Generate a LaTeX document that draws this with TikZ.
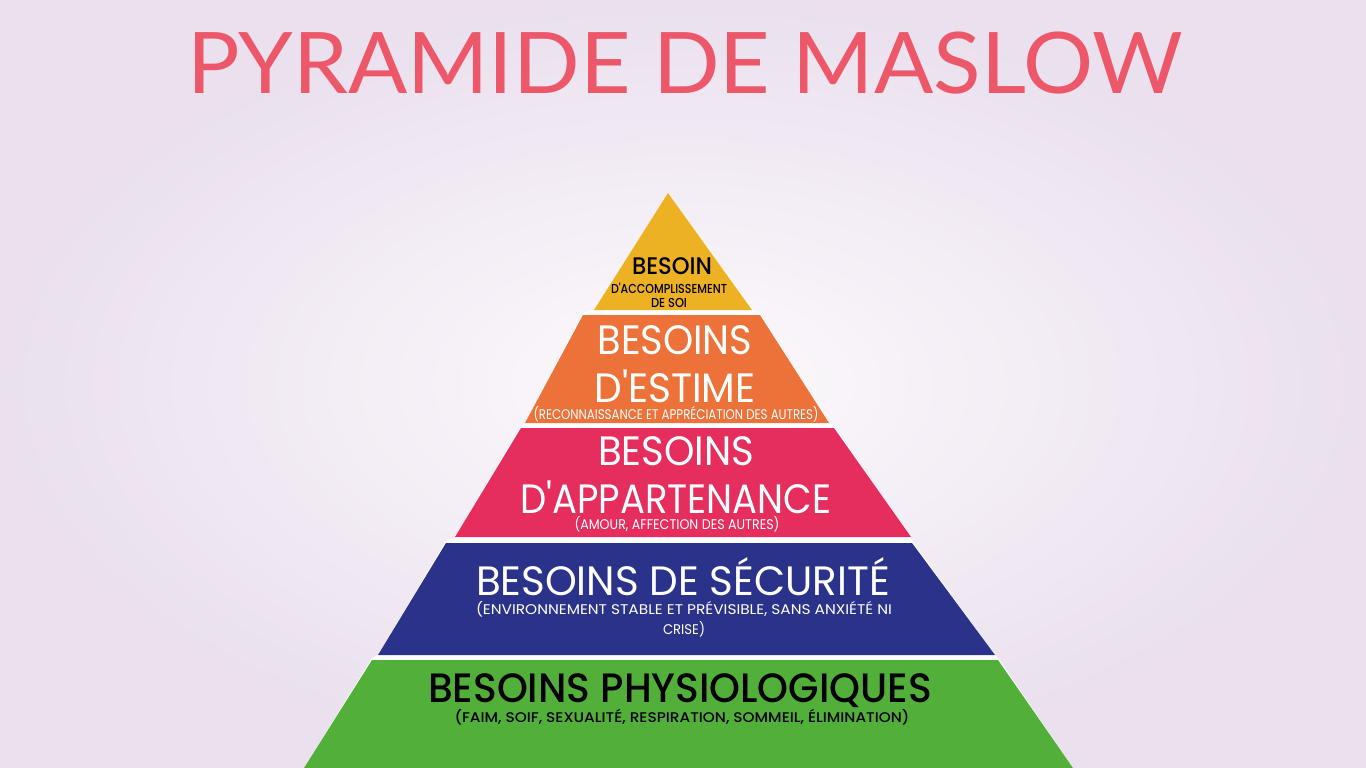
\documentclass[tikz,border=0pt]{standalone}
\usepackage{fontspec}
\setmainfont{Poppins}
\newfontfamily\titlefont{Lato}
\newfontfamily\medfont{Poppins Medium}
\usepackage{graphicx}
\usepackage{xcolor}
\definecolor{bgouter}{RGB}{234,224,238}
\definecolor{bginner}{RGB}{252,250,252}
\definecolor{titlered}{RGB}{236,88,106}
\definecolor{soiyellow}{RGB}{236,178,36}
\definecolor{estorange}{RGB}{236,114,58}
\definecolor{apppink}{RGB}{230,46,94}
\definecolor{secblue}{RGB}{42,50,138}
\definecolor{physgreen}{RGB}{82,175,58}
% squeeze a line to a given width (in px)
\newlength\labw
\newcommand\fitto[2]{\settowidth\labw{#2}\pgfmathsetmacro\labsx{#1/\labw}\scalebox{\labsx}[1]{#2}}
\newcommand\ap{\textquotesingle}
\tikzstyle{title} = [font=\titlefont\fontsize{85}{85}\selectfont,
  text=titlered, anchor=base, inner sep=0pt]
\tikzstyle{bigline} = [font=\fontsize{41}{41}\selectfont,
  anchor=base, inner sep=0pt]
\tikzstyle{subline} = [font=\fontsize{14}{14}\selectfont,
  anchor=base, inner sep=0pt]
\tikzstyle{topline} = [font=\medfont\fontsize{24}{24}\selectfont,
  anchor=base, inner sep=0pt]

\begin{document}
\begin{tikzpicture}[x=1pt, y=-1pt]
  \useasboundingbox (0,0) rectangle (1366,768);
  \shade[inner color=bginner, outer color=bgouter] (0,0) rectangle (1366,768);
  \node[title] (title) at (685,93) {\fitto{996}{PYRAMIDE DE MASLOW}};
  % white gaps between the layers
  \fill[white] (668,193) -- (753,310) -- (760,313) -- (829,423) -- (834,426)
    -- (911,537) -- (912,541) -- (995,655) -- (998,658) -- (1073,768)
    -- (304,768) -- (372,658) -- (378,655) -- (446,541) -- (455,537)
    -- (521,426) -- (525,423) -- (583,313) -- (594,310) -- cycle;
  % layers
  \fill[soiyellow] (668,193) -- (752,310) -- (594,310) -- cycle;
  \fill[estorange] (583,315) -- (760,315) -- (829,423) -- (525,423) -- cycle;
  \fill[apppink] (521,428) -- (834,428) -- (911,537) -- (455,537) -- cycle;
  \fill[secblue] (446,543) -- (912,543) -- (995,655) -- (378,655) -- cycle;
  \fill[physgreen] (372,660) -- (998,660) -- (1073,768) -- (304,768) -- cycle;
  % accomplissement
  \node[topline] (soi1) at (672,274) {\fitto{80}{BESOIN}};
  \node[topline, font=\medfont\fontsize{13}{13}\selectfont] (soi2) at (669,293)
    {\fitto{116}{D\ap ACCOMPLISSEMENT}};
  \node[topline, font=\medfont\fontsize{13}{13}\selectfont] (soi3) at (669,307)
    {\fitto{36}{DE SOI}};
  % estime
  \node[bigline, text=white] (est1) at (675,354) {\fitto{155}{BESOINS}};
  \node[bigline, text=white] (est2) at (675,402) {\fitto{161}{D\ap ESTIME}};
  \node[subline, text=white] (est3) at (676,419)
    {\fitto{285}{(RECONNAISSANCE ET APPRÉCIATION DES AUTRES)}};
  % appartenance
  \node[bigline, text=white] (app1) at (676,465) {\fitto{156}{BESOINS}};
  \node[bigline, text=white] (app2) at (676,513) {\fitto{311}{D\ap APPARTENANCE}};
  \node[subline, text=white] (app3) at (677,529)
    {\fitto{205}{(AMOUR, AFFECTION DES AUTRES)}};
  % securite
  \node[bigline, text=white] (sec1) at (683,595)
    {\fitto{414}{BESOINS DE SÉCURITÉ}};
  \node[subline, text=white] (sec2) at (684,614)
    {\fitto{416}{(ENVIRONNEMENT STABLE ET PRÉVISIBLE, SANS ANXIÉTÉ NI}};
  \node[subline, text=white] (sec3) at (684,634) {\fitto{42}{CRISE)}};
  % physiologie
  \node[bigline, font=\medfont\fontsize{41}{41}\selectfont] (phy1) at (680,702)
    {\fitto{504}{BESOINS PHYSIOLOGIQUES}};
  \node[subline, font=\medfont\fontsize{14}{14}\selectfont] (phy2) at (682,722)
    {\fitto{455}{(FAIM, SOIF, SEXUALITÉ, RESPIRATION, SOMMEIL, ÉLIMINATION)}};
\end{tikzpicture}
\end{document}
